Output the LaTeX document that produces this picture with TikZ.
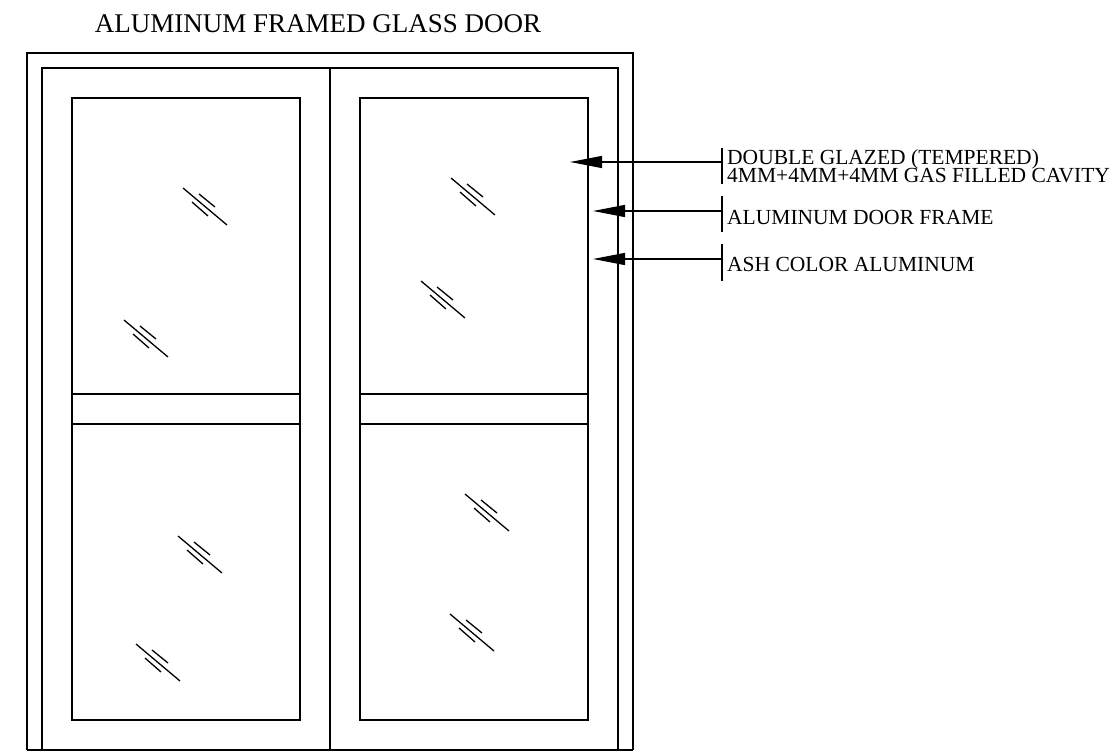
\documentclass[tikz,border=0pt]{standalone}
\usepackage{fontspec}
\setmainfont{Liberation Serif}
\usetikzlibrary{arrows.meta,positioning}
\tikzset{
  doorline/.style={line width=1.3pt,black},
  glassline/.style={line width=1.3pt,black},
  leader/.style={line width=1.3pt,-{Triangle[length=32pt,width=12pt]}},
  tick/.style={line width=1.3pt},
  notelabel/.style={anchor=base west,inner sep=0pt,font=\fontsize{21.5}{21.5}\selectfont},
  titlelabel/.style={anchor=base,inner sep=0pt,font=\fontsize{27}{27}\selectfont}
}
\newcommand{\glassmark}[2]{
\draw[glassline] (#1,#2) -- ++(44,37);
\draw[glassline] (#1+16,#2+6) -- ++(16,13);
\draw[glassline] (#1+9,#2+14) -- ++(16,14);
}
\begin{document}
\begin{tikzpicture}[x=1pt,y=-1pt]
\useasboundingbox (0,0) rectangle (1120,754);
\node[titlelabel] (title) at (318,33) {ALUMINUM FRAMED GLASS DOOR};
% door frame
\draw[doorline] (27,750) -- (27,53) -- (633,53) -- (633,750);
\draw[doorline] (27,750) -- (633,750);
\draw[doorline] (42,750) -- (42,68) -- (618,68) -- (618,750);
\draw[doorline] (330,68) -- (330,750);
% glass panels
\draw[doorline] (72,98) rectangle (300,720);
\draw[doorline] (360,98) rectangle (588,720);
\draw[doorline] (72,394) -- (300,394);
\draw[doorline] (72,424) -- (300,424);
\draw[doorline] (360,394) -- (588,394);
\draw[doorline] (360,424) -- (588,424);
% glass marks
\glassmark{183}{188}
\glassmark{124}{320}
\glassmark{451}{178}
\glassmark{421}{281}
\glassmark{178}{536}
\glassmark{136}{644}
\glassmark{465}{494}
\glassmark{450}{614}
% notes
\coordinate (glazedtick) at (722,162);
\coordinate (glazedtip) at (570,162);
\coordinate (frametick) at (722,211);
\coordinate (frametip) at (593,211);
\coordinate (ashtick) at (722,259);
\coordinate (ashtip) at (593,259);
\draw[leader] (glazedtick) -- (glazedtip);
\draw[leader] (frametick) -- (frametip);
\draw[leader] (ashtick) -- (ashtip);
\draw[tick] ([yshift=14pt]glazedtick) -- ([yshift=-22pt]glazedtick);
\draw[tick] ([yshift=15pt]frametick) -- ([yshift=-21pt]frametick);
\draw[tick] ([yshift=15pt]ashtick) -- ([yshift=-22pt]ashtick);
\node[notelabel] (glazednote) at (727,164.5) {DOUBLE GLAZED (TEMPERED)};
\node[notelabel] (cavitynote) at (727,183) {4MM+4MM+4MM GAS FILLED CAVITY};
\node[notelabel] (framenote) at (727,225) {ALUMINUM DOOR FRAME};
\node[notelabel] (ashnote) at (727,272) {ASH COLOR ALUMINUM};
\end{tikzpicture}
\end{document}
